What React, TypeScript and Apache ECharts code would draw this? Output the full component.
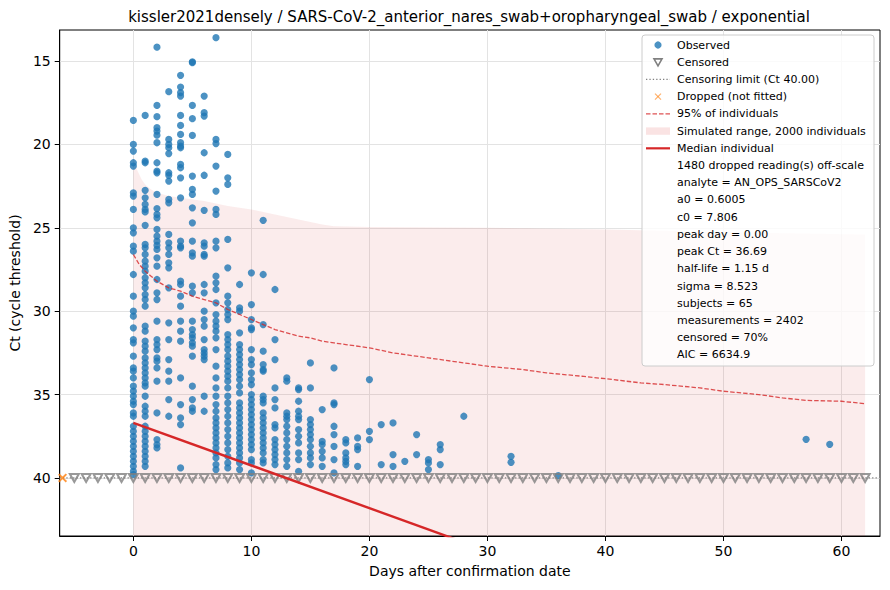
import React, { useEffect, useRef } from 'react';
import * as echarts from 'echarts';

// observed Ct readings, grouped by day after confirmation
const observedDays = [
  0, 1, 2, 3, 4, 5, 6, 7, 8, 9, 10, 11, 12, 13, 14, 15, 16, 17, 18, 19, 20, 21, 22, 23, 24, 25, 26, 28, 32, 36,
  57, 59,
];
const observedCt = [
  [18.56, 20.0, 20.4, 21.1, 21.3, 22.9, 23.1, 23.9, 25.0, 25.3, 26.1, 26.4, 27.8, 29.1, 30.0, 30.3, 31.0, 31.7,
    31.9, 32.7, 33.4, 33.6, 34.0, 34.5, 34.8, 35.1, 35.4, 35.6, 36.1, 36.3, 36.9, 37.2, 37.5, 37.8, 38.1, 38.4,
    38.7, 39.0, 39.3, 39.6, 39.8],
  [18.26, 21.0, 21.1, 22.75, 23.2, 23.6, 23.9, 24.05, 24.85, 26.0, 26.2, 26.6, 27.0, 27.3, 27.6, 28.0, 28.3, 28.6,
    29.0, 29.3, 29.7, 30.9, 31.2, 31.8, 32.1, 32.4, 32.8, 33.1, 33.4, 33.7, 34.0, 34.3, 34.5, 35.1, 35.7, 36.0,
    36.3, 36.9, 37.2, 37.5, 37.8, 38.1, 38.4, 38.7, 39.0, 39.3],
  [14.17, 17.66, 18.34, 19.0, 19.2, 19.45, 19.9, 21.1, 21.6, 21.7, 23.0, 23.85, 24.2, 24.4, 25.1, 25.5, 25.8,
    26.05, 26.3, 26.8, 27.3, 28.1, 28.9, 29.3, 30.6, 31.7, 32.0, 32.3, 32.8, 33.0, 33.4, 34.2, 36.1, 37.7, 38.0,
    38.2],
  [16.84, 19.7, 20.0, 20.2, 20.55, 21.7, 21.85, 22.2, 23.3, 23.5, 25.4, 25.9, 26.2, 26.6, 27.1, 27.4, 28.6, 30.7,
    31.7, 32.9, 33.6, 34.2, 35.3, 36.3],
  [15.86, 16.56, 16.9, 17.1, 18.26, 18.86, 19.4, 19.9, 20.1, 20.2, 21.2, 21.4, 22.0, 23.2, 25.8, 26.1, 26.2, 28.2,
    28.4, 29.1, 29.7, 30.6, 31.2, 31.8, 34.0, 35.6, 36.4, 36.8, 39.4],
  [15.05, 15.1, 17.66, 18.46, 19.46, 21.9, 22.7, 23.0, 23.8, 24.7, 25.8, 26.5, 26.7, 28.5, 28.9, 30.6, 31.1, 31.4,
    31.6, 31.9, 32.1, 32.7, 34.5, 35.3, 35.8, 36.0],
  [17.1, 18.1, 18.3, 20.5, 21.85, 23.95, 25.9, 26.1, 26.6, 26.7, 28.4, 28.9, 30.0, 30.5, 30.9, 31.7, 32.3, 32.5,
    32.7, 32.9, 35.1, 36.0],
  [13.6, 19.7, 19.95, 21.3, 22.8, 23.9, 24.2, 25.8, 26.2, 27.9, 28.3, 28.7, 29.5, 30.2, 30.6, 30.9, 31.2, 31.6,
    32.3, 33.3, 34.0, 34.6, 35.1, 35.6, 36.0, 36.4, 36.7, 37.0, 37.3, 37.6, 37.9, 38.2, 38.5, 38.8, 39.2, 39.5],
  [20.6, 22.0, 22.4, 25.7, 27.4, 29.1, 29.5, 29.9, 30.2, 30.5, 31.4, 31.7, 32.0, 32.3, 32.7, 33.0, 33.3, 33.6,
    33.9, 34.2, 34.6, 35.1, 35.5, 35.9, 36.3, 36.7, 37.1, 37.5, 37.9, 38.3, 38.7, 39.1, 39.4],
  [28.4, 29.8, 30.0, 31.3, 32.0, 32.3, 32.6, 32.9, 33.2, 33.5, 33.8, 34.1, 34.5, 34.9, 35.5, 35.8, 36.1, 36.4,
    36.7, 37.0, 37.3, 37.6, 37.9, 38.2, 38.5, 38.8, 39.1, 39.5],
  [27.7, 29.6, 30.5, 31.0, 31.1, 32.3, 32.9, 33.2, 33.7, 34.1, 34.4, 35.0, 35.3, 35.6, 35.9, 36.2, 36.5, 36.8,
    37.1, 37.4, 37.7, 38.0, 38.3, 38.9, 39.1, 39.7],
  [24.55, 27.8, 30.8, 32.4, 33.2, 33.5, 33.6, 35.1, 35.3, 35.5, 36.1, 36.4, 36.7, 37.0, 37.3, 37.6, 37.9, 38.2,
    38.5, 38.9, 39.1],
  [28.7, 31.7, 32.9, 34.6, 35.3, 35.8, 36.8, 37.0, 37.7, 38.0, 38.3, 38.6, 38.9, 39.2],
  [34.0, 34.2, 36.1, 36.3, 36.5, 36.9, 37.3, 37.7, 38.1, 38.5, 38.9, 39.3],
  [34.6, 34.7, 35.4, 36.0, 36.3, 36.5, 37.1, 37.5, 37.9, 38.5, 38.9, 39.6],
  [33.1, 34.6, 36.5, 36.8, 37.1, 37.4, 37.7, 38.1, 38.5, 38.8, 39.2],
  [35.9, 37.8, 38.0, 38.4, 38.8, 39.3],
  [33.4, 35.5, 35.6, 36.9, 37.4, 38.1, 38.9, 39.7],
  [37.7, 37.9, 38.5, 38.8, 39.0, 39.2],
  [37.6, 38.1, 38.3, 39.3],
  [34.1, 37.2, 37.7],
  [36.8, 39.2],
  [36.7, 38.6, 39.3],
  [39.0],
  [37.4, 38.6],
  [38.9, 39.1, 39.5],
  [38.0, 38.3, 39.2],
  [36.3],
  [38.7, 39.06],
  [39.86],
  [37.68],
  [37.98],
];

const censorLimit = 40;
const censoredDays = [
  -5, -4, -3, -2, -1, 0, 1, 2, 3, 4, 5, 6, 7, 8, 9, 10, 11, 12, 13, 14, 15, 16, 17, 18, 19, 20, 21, 22, 23, 24, 25,
  26, 27, 28, 29, 30, 31, 32, 33, 34, 35, 36, 37, 38, 39, 40, 41, 42, 43, 44, 45, 46, 47, 48, 49, 50, 51, 52, 53,
  54, 55, 56, 57, 58, 59, 60, 61, 62,
];
const droppedDays = [-6];

// 95% of individuals (upper envelope)
const pct95Days = [0, 0.5, 1, 1.5, 2, 3, 4, 5, 6, 7, 8, 9, 10, 11, 12, 13, 14, 15, 16, 17, 18, 20, 22, 25, 28, 30,
  33, 35, 38, 40, 43, 45, 48, 50, 53, 55, 57, 60, 62];
const pct95Ct = [26.6, 27.2, 27.6, 27.9, 28.2, 28.6, 28.8, 29.1, 29.3, 29.5, 29.9, 30.2, 30.5, 30.8, 31.1, 31.3,
  31.5, 31.6, 31.8, 31.9, 32.0, 32.2, 32.5, 32.8, 33.1, 33.3, 33.5, 33.7, 33.9, 34.05, 34.3, 34.4, 34.6, 34.8,
  35.0, 35.2, 35.35, 35.4, 35.55];

// simulated range, top edge
const bandDays = [0, 0.3, 0.7, 1, 1.5, 2, 3, 4, 6, 8, 10, 12, 14, 16, 17, 20, 30, 40, 50, 62];
const bandTop = [20.7, 21.5, 22.1, 22.4, 22.7, 22.9, 23.1, 23.2, 23.4, 23.7, 23.9, 24.2, 24.5, 24.8, 24.9, 24.95,
  25.0, 25.1, 25.25, 25.4];

const medianDays = [0, 30];
const medianCt = [36.69, 44.37];

const xTicks = [0, 10, 20, 30, 40, 50, 60];
const yTicks = [15, 20, 25, 30, 35, 40];

const legendNames = [
  'Observed',
  'Censored',
  'Censoring limit (Ct 40.00)',
  'Dropped (not fitted)',
  '95% of individuals',
  'Simulated range, 2000 individuals',
  'Median individual',
];
const fitStats = [
  '1480 dropped reading(s) off-scale',
  'analyte = AN_OPS_SARSCoV2',
  'a0 = 0.6005',
  'c0 = 7.806',
  'peak day = 0.00',
  'peak Ct = 36.69',
  'half-life = 1.15 d',
  'sigma = 8.523',
  'subjects = 65',
  'measurements = 2402',
  'censored = 70%',
  'AIC = 6634.9',
];

const FONT = '"DejaVu Sans", sans-serif';
const BLUE = '#1f77b4';
const RED = '#d62728';
const GREY = '#808080';
const ORANGE = '#ff7f0e';
const CROSS = 'path://M1.5,0L5,3.5L8.5,0L10,1.5L6.5,5L10,8.5L8.5,10L5,6.5L1.5,10L0,8.5L3.5,5L0,1.5Z';

// legend drawn by hand (matplotlib style, with text-only rows for the fit stats)
function legendGraphic() {
  const row = (i: number) => 45 + i * 17.22;
  const mx = 658;
  const z = 100;
  const items: any[] = [
    {
      type: 'rect',
      z,
      shape: { x: 642, y: 35, width: 232, height: 331, r: 3 },
      style: { fill: 'rgba(255,255,255,0.8)', stroke: '#cccccc', lineWidth: 1 },
    },
    { type: 'circle', z: z + 1, shape: { cx: mx, cy: row(0), r: 3.6 }, style: { fill: BLUE, opacity: 0.8 } },
    {
      type: 'polygon',
      z: z + 1,
      shape: { points: [[mx - 4, row(1) - 3.3], [mx + 4, row(1) - 3.3], [mx, row(1) + 3.6]] },
      style: { fill: 'none', stroke: GREY, lineWidth: 1.6 },
    },
    {
      type: 'line',
      z: z + 1,
      shape: { x1: 646, y1: row(2), x2: 670, y2: row(2) },
      style: { stroke: GREY, lineWidth: 1.3, lineDash: [1.3, 2.1] },
    },
    {
      type: 'line',
      z: z + 1,
      shape: { x1: mx - 3, y1: row(3) - 3, x2: mx + 3, y2: row(3) + 3 },
      style: { stroke: ORANGE, lineWidth: 1.3, opacity: 0.6 },
    },
    {
      type: 'line',
      z: z + 1,
      shape: { x1: mx - 3, y1: row(3) + 3, x2: mx + 3, y2: row(3) - 3 },
      style: { stroke: ORANGE, lineWidth: 1.3, opacity: 0.6 },
    },
    {
      type: 'line',
      z: z + 1,
      shape: { x1: 646, y1: row(4), x2: 670, y2: row(4) },
      style: { stroke: RED, lineWidth: 1.3, opacity: 0.8, lineDash: [4.5, 2] },
    },
    {
      type: 'rect',
      z: z + 1,
      shape: { x: 646, y: row(5) - 3.7, width: 24, height: 7.4 },
      style: { fill: 'rgba(214,39,40,0.13)' },
    },
    {
      type: 'line',
      z: z + 1,
      shape: { x1: 646, y1: row(6), x2: 670, y2: row(6) },
      style: { stroke: RED, lineWidth: 2.2 },
    },
  ];
  [...legendNames, ...fitStats].forEach((t, i) => {
    items.push({
      type: 'text',
      z: z + 1,
      x: 677,
      y: row(i),
      style: { text: t, font: `11px ${FONT}`, fill: '#000', verticalAlign: 'middle', align: 'left' },
    });
  });
  return items;
}

export default function App() {
  const chartRef = useRef<HTMLDivElement>(null);

  useEffect(() => {
    const chart = echarts.init(chartRef.current!, undefined, { renderer: 'svg' });

    const observed = observedDays.flatMap((d, i) => observedCt[i].map((ct) => [d, ct]));
    const censored = censoredDays.map((d) => [d, censorLimit]);
    const dropped = droppedDays.map((d) => [d, censorLimit]);

    const option = {
      animation: false,
      backgroundColor: '#ffffff',
      grid: {
        left: 58,
        right: 10,
        top: 30,
        bottom: 54,
        show: true,
        borderColor: '#000',
        borderWidth: 1,
        backgroundColor: 'transparent',
      },
      xAxis: {
        type: 'value',
        min: -6.24,
        max: 63.26,
        name: 'Days after confirmation date',
        nameLocation: 'middle',
        nameGap: 28,
        nameTextStyle: { fontFamily: FONT, fontSize: 14, color: '#000' },
        axisLine: { onZero: false, lineStyle: { color: '#000', width: 1 } },
        axisTick: { customValues: xTicks, length: 5, lineStyle: { color: '#000', width: 1 } },
        axisLabel: { customValues: xTicks, fontFamily: FONT, fontSize: 14, color: '#000', margin: 8 },
        splitLine: { show: true, lineStyle: { color: '#e3e3e3', width: 1 } },
      },
      yAxis: {
        type: 'value',
        inverse: true,
        min: 13.14,
        max: 43.48,
        name: 'Ct (cycle threshold)',
        nameLocation: 'middle',
        nameRotate: 90,
        nameGap: 33,
        nameTextStyle: { fontFamily: FONT, fontSize: 14, color: '#000' },
        axisLine: { onZero: false, lineStyle: { color: '#000', width: 1 } },
        axisTick: { customValues: yTicks, length: 5, lineStyle: { color: '#000', width: 1 } },
        axisLabel: { customValues: yTicks, fontFamily: FONT, fontSize: 14, color: '#000', margin: 9 },
        splitLine: { show: true, lineStyle: { color: '#e3e3e3', width: 1 } },
      },
      graphic: [
        {
          type: 'text',
          x: 469,
          y: 17,
          style: {
            text: 'kissler2021densely / SARS-CoV-2_anterior_nares_swab+oropharyngeal_swab / exponential',
            font: `15px ${FONT}`,
            fill: '#000',
            align: 'center',
            verticalAlign: 'middle',
          },
        },
        ...legendGraphic(),
      ],
      series: [
        {
          name: 'Simulated range, 2000 individuals',
          type: 'line',
          data: bandDays.map((d, i) => [d, bandTop[i]]),
          showSymbol: false,
          lineStyle: { width: 0 },
          areaStyle: { color: 'rgba(214,39,40,0.13)', origin: 'end' },
          z: 1,
          silent: true,
        },
        {
          name: 'Observed',
          type: 'scatter',
          data: observed,
          symbol: 'circle',
          symbolSize: 7.2,
          itemStyle: { color: BLUE, opacity: 0.8 },
          z: 2,
        },
        {
          name: 'Censored',
          type: 'scatter',
          data: censored,
          symbol: 'triangle',
          symbolRotate: 180,
          symbolSize: [9, 8],
          itemStyle: { color: 'transparent', borderColor: GREY, borderWidth: 2 },
          z: 3,
        },
        {
          name: 'Censoring limit (Ct 40.00)',
          type: 'line',
          data: [[-10, censorLimit], [70, censorLimit]],
          showSymbol: false,
          lineStyle: { color: GREY, width: 1.3, type: [1.3, 2.1] },
          z: 4,
        },
        {
          name: 'Dropped (not fitted)',
          type: 'scatter',
          data: dropped,
          symbol: CROSS,
          symbolSize: 9,
          itemStyle: { color: ORANGE },
          z: 4,
        },
        {
          name: '95% of individuals',
          type: 'line',
          data: pct95Days.map((d, i) => [d, pct95Ct[i]]),
          showSymbol: false,
          lineStyle: { color: RED, width: 1.3, opacity: 0.8, type: [4.5, 2] },
          z: 5,
        },
        {
          name: 'Median individual',
          type: 'line',
          data: medianDays.map((d, i) => [d, medianCt[i]]),
          showSymbol: false,
          lineStyle: { color: RED, width: 2.4 },
          z: 6,
        },
      ],
    };

    chart.setOption(option);

    return () => {
      chart.dispose();
    };
  }, []);

  return (
    <div
      ref={chartRef}
      style={{ position: 'fixed', left: 0, top: 0, width: 890, height: 590, background: '#fff' }}
    />
  );
}
